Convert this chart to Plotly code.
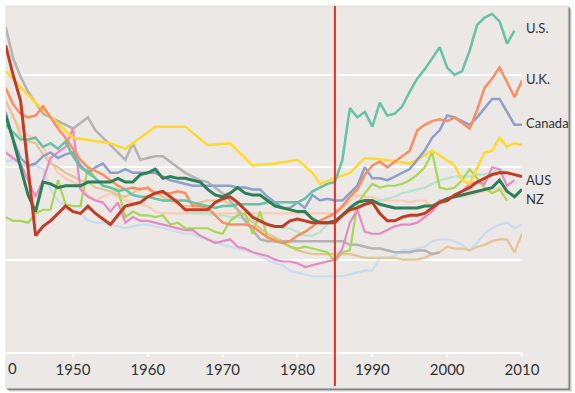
import plotly.graph_objects as go

# ---------------- data (top 1% income share, %) ----------------
years = list(range(1941, 2011))

us = [12.3, 11.9, 11.5, 11.5, 11.6, 11.1, 11.3, 11.0, 11.4, 10.6,
      10.0, 9.7, 9.4, 9.0, 8.9, 8.7, 8.8, 8.5, 8.4, 8.4,
      8.3, 8.2, 8.2, 8.2, 8.2, 8.1, 8.0, 7.9, 7.8, 7.9,
      7.9, 8.0, 8.0, 8.0, 8.0, 8.1, 8.1, 8.1, 8.1, 8.1,
      8.3, 8.7, 8.9, 9.1, 9.2, 10.4, 13.2, 12.7, 13.0, 12.2,
      13.5, 12.8, 12.9, 13.3, 14.1, 14.8, 15.3, 15.9, 16.5, 15.4,
      15.0, 15.2, 16.3, 17.7, 18.1, 18.3, 17.9, 16.7, 17.4, None]

uk = [14.3, 13.4, 12.9, 12.7, 12.8, 13.3, 12.7, 12.1, 11.6, 11.0,
      10.4, 10.0, 9.8, 9.6, 9.3, 9.0, 8.8, 8.9, 8.8, 8.9,
      8.6, 8.6, 8.6, 8.7, 8.6, 7.9, 7.9, 7.8, 7.4, 7.0,
      6.9, 6.9, 6.9, 6.8, 6.5, 6.2, 6.0, 5.9, 6.0, 6.3,
      6.5, 6.8, 7.1, 7.3, 7.5, 7.9, 8.4, 8.8, 9.6, 10.1,
      10.3, 10.0, 10.3, 10.6, 10.9, 12.0, 12.3, 12.5, 12.6, 12.5,
      12.7, 12.4, 12.1, 13.1, 14.3, 14.8, 15.4, 14.6, 13.8, 14.7]

canada = [13.0, 11.5, 10.5, 10.1, 10.2, 10.6, 10.8, 10.5, 10.7, 10.8,
          10.1, 9.7, 10.0, 10.2, 9.7, 9.7, 9.9, 9.7, 9.7, 9.7,
          9.7, 9.5, 9.3, 9.2, 9.1, 9.0, 9.0, 9.0, 9.0, 9.0,
          9.0, 8.9, 8.9, 8.8, 8.8, 8.4, 8.1, 7.8, 7.8, 8.1,
          7.8, 8.5, 8.2, 8.3, 8.2, 8.2, 8.6, 9.0, 10.0, 9.4,
          9.4, 9.3, 9.5, 9.7, 9.9, 10.4, 10.9, 11.6, 12.0, 12.8,
          12.7, 12.5, 12.3, 12.7, 13.2, 13.7, 13.7, 13.0, 12.3, 12.3]

aus = [16.6, 15.0, 13.6, 10.0, 6.3, 6.8, 7.1, 7.5, 7.9, 7.6,
       7.5, 7.9, 7.5, 7.2, 6.9, 7.4, 7.9, 8.0, 8.1, 8.4,
       8.6, 8.7, 8.4, 8.1, 7.7, 7.7, 7.7, 7.7, 8.1, 8.3,
       8.4, 8.1, 7.7, 7.3, 7.1, 6.9, 6.8, 6.8, 7.1, 7.2,
       7.1, 7.0, 7.0, 7.0, 7.0, 7.4, 7.7, 7.8, 8.0, 8.1,
       7.5, 7.1, 7.1, 7.3, 7.4, 7.4, 7.5, 7.8, 8.1, 8.2,
       8.5, 8.7, 8.9, 9.2, 9.4, 9.6, 9.7, 9.7, 9.6, 9.5]

nz = [12.8, 11.5, 10.0, 8.5, 7.6, 9.2, 9.1, 8.9, 9.0, 9.0,
      9.0, 9.2, 9.2, 9.2, 9.2, 9.4, 9.2, 9.2, 9.6, 9.7,
      9.9, 9.4, 9.5, 9.4, 9.4, 9.3, 9.2, 8.8, 8.5, 8.4,
      8.6, 8.9, 8.6, 8.5, 8.5, 8.2, 7.9, 7.8, 7.7, 7.6,
      7.6, 7.2, 7.0, 7.0, 7.1, 7.4, 7.8, 8.1, 8.2, 8.2,
      8.0, 7.9, 7.8, 7.8, 7.8, 7.8, 7.9, 7.9, 8.1, 8.3,
      8.4, 8.5, 8.6, 8.7, 8.8, 8.9, 9.3, 8.7, 8.4, 8.8]

gray = [17.6, 15.9, 14.9, 14.1, 13.5, 12.9, 12.7, 12.5, 12.3, 12.1,
        12.4, 12.7, 12.0, 11.6, 11.2, 10.8, 10.4, 11.3, 10.4, 10.5,
        10.6, 10.6, 10.3, 10.0, 9.7, 9.5, 9.3, 9.2, 8.9, 8.6,
        8.2, 7.7, 7.1, 6.6, 6.1, 6.0, 6.0, 6.0, 6.0, 6.0,
        6.0, 6.0, 6.0, 6.0, 6.0, 6.0, 5.8, 5.8, 5.7, 5.6,
        5.6, 5.5, 5.4, 5.4, 5.4, 5.5, 5.5, 5.3, 5.4, None,
        None, None, None, None, None, None, None, None, None, None]

pink = [10.8, 10.5, 10.2, 9.3, 8.4, 9.3, 10.5, 10.8, 11.1, 12.1,
        8.8, 8.4, 8.2, 8.1, 7.6, 8.1, 7.0, 7.3, 7.1, 7.1,
        7.0, 6.9, 6.8, 6.7, 6.6, 6.6, 6.3, 6.1, 5.9, 6.0,
        6.1, 5.7, 5.6, 5.4, 5.3, 5.2, 5.0, 4.9, 4.9, 4.8,
        4.6, 4.7, 4.8, 4.9, 5.0, 5.6, 7.0, 7.7, 6.5, 6.4,
        6.4, 6.6, 6.8, 6.9, 6.9, 7.0, 7.3, 7.6, 8.2, 8.2,
        8.5, 8.7, 9.1, 9.2, 9.1, 10.0, 9.9, 9.0, 9.3, None]

lightgreen = [7.3, 7.1, 7.1, 7.0, 7.5, 7.7, 7.7, 9.3, 8.0, 7.9,
              7.9, 10.0, 9.4, 9.0, 8.9, 8.8, 7.3, 7.6, 7.4, 7.4,
              7.3, 7.4, 6.9, 7.0, 6.7, 6.7, 6.7, 6.7, 6.5, 6.4,
              7.1, 7.4, 7.5, 6.4, 7.6, 6.2, 6.1, 5.9, 5.7, 5.6,
              5.7, 5.6, 5.5, 5.4, 4.9, 5.4, 5.5, 8.0, 8.6, 9.1,
              8.9, 9.0, 9.0, 9.1, 9.3, 9.6, 10.0, 10.8, 8.9, 8.8,
              8.9, 9.3, 9.9, 9.4, 8.9, 8.6, 8.8, 8.2, None, None]

lightblue = [10.3, 10.4, 10.2, 10.0, 10.1, 9.9, 8.8, 8.2, 7.9, 7.7,
             7.5, 7.1, 7.0, 7.0, 6.9, 6.8, 6.7, 6.8, 6.9, 6.9,
             6.8, 6.7, 6.6, 6.5, 6.4, 6.4, 6.2, 6.1, 6.0, 5.8,
             5.7, 5.6, 5.5, 5.4, 5.2, 5.0, 4.8, 4.7, 4.4, 4.3,
             4.2, 4.1, 4.1, 4.1, 4.1, 4.1, 4.2, 4.3, 4.4, 4.4,
             5.1, 5.1, 5.2, 5.5, 5.5, 5.6, 5.7, 6.0, 6.1, 6.1,
             6.0, 5.8, 5.5, 5.9, 6.4, 6.7, 6.9, 7.0, 6.7, 6.9]

tan = [13.6, 12.8, 11.7, 11.4, 11.3, 10.7, 10.2, 10.0, 9.7, 9.5,
       9.3, 9.2, 8.9, 8.8, 8.7, 8.5, 8.4, 8.6, 8.9, 8.8,
       8.6, 8.4, 8.2, 8.0, 7.9, 7.9, 8.1, 8.2, 8.2, 8.2,
       8.0, 7.7, 7.4, 7.0, 6.7, 6.4, 6.2, 6.0, 5.7, 5.5,
       5.4, 5.3, 5.3, 5.3, 5.3, 5.3, 5.3, 5.2, 5.1, 5.1,
       5.1, 5.1, 5.1, 5.0, 5.0, 5.0, 5.1, 5.3, 5.4, 5.7,
       5.6, 5.6, 5.5, 5.7, 5.8, 6.0, 6.1, 6.1, 5.4, 6.4]

peach = [13.6, 12.7, 12.1, 11.7, 11.6, 11.1, 10.3, 9.7, 9.4, 9.2,
         9.0, 8.5, 8.2, 8.4, 8.6, 8.4, 8.2, 8.1, 8.0, 7.9,
         7.6, 7.5, 7.5, 7.5, 7.5, 7.5, 7.5, 7.5, 7.5, 7.5,
         7.5, 7.5, 7.5, 7.5, 7.5, 7.5, 7.5, 7.5, 7.5, 7.5,
         7.5, 7.5, 7.5, 7.5, 7.5, 7.8, 8.2, 8.5, 8.4, 8.4,
         8.2, 8.2, 8.2, 8.2, 8.1, 8.2, 8.2, 7.9, 8.2, 8.3,
         8.4, 8.4, 8.5, 8.6, 8.7, 8.8, 8.9, 8.6, None, None]

yellow_years = [1941, 1945, 1950, 1955, 1957, 1958, 1961, 1965, 1968, 1971,
                1974, 1977, 1980, 1982, 1983, 1985, 1987, 1989, 1992, 1995,
                1998, 2001, 2002, 2003, 2005, 2006, 2007, 2008, 2009, 2010]
yellow = [15.2, 13.5, 11.6, 11.3, 11.0, 11.3, 12.2, 12.2, 11.2, 11.3,
          10.1, 10.2, 10.4, 9.7, 9.1, 9.4, 9.7, 10.5, 10.4, 10.2,
          10.9, 10.1, 9.3, 9.1, 10.8, 10.9, 11.6, 11.1, 11.3, 11.2]

mint_years = list(range(1965, 2011))
mint = [7.6, 7.5, 7.5, 7.5, 7.4, 7.4, 7.3, 7.3, 7.2, 7.1,
        7.0, 6.9, 6.8, 6.7, 6.7, 6.5, 6.3, 6.3, 6.5, 6.9,
        7.0, 7.5, 7.8, 7.9, 7.9, 8.1, 8.2, 8.3, 8.4, 8.6,
        8.7, 8.8, 8.9, 9.1, 9.3, 9.4, 9.5, 9.5, 9.5, 9.6,
        9.6, 9.7, 9.9, 9.7, 9.6, 9.5]

tick_years = [1950, 1960, 1970, 1980, 1990, 2000, 2010]
marker_year = 1985
labels = ["U.S.", "U.K.", "Canada", "AUS", "NZ"]

# ---------------- figure ----------------
W, H = 575, 393
ML, MR, MT, MB = 6, 53, 6, 41
PW, PH = W - ML - MR, H - MT - MB

def px_x(p):
    return p / PW

def px_y(p):
    return p / PH

fig = go.Figure()

series = [
    (years, lightblue, "#c9dcf0", 2.2),
    (years, peach, "#fdcbb0", 2.2),
    (mint_years, mint, "#b5e3cf", 2.2),
    (years, tan, "#e5c494", 2.2),
    (years, gray, "#b3b3b3", 2.5),
    (years, lightgreen, "#a6d854", 2.2),
    (years, pink, "#e78ac3", 2.2),
    (yellow_years, yellow, "#ffd92f", 2.5),
    (years, canada, "#8da0cb", 2.5),
    (years, uk, "#fc8d62", 2.5),
    (years, us, "#66c2a5", 2.5),
    (years, nz, "#2b7f59", 3),
    (years, aus, "#c23b23", 3),
]
for xs, ys, col, w in series:
    fig.add_trace(go.Scatter(x=xs, y=ys, mode="lines", line=dict(color=col, width=w),
                             hoverinfo="skip", showlegend=False))

card_x1 = 1 + px_x(46)
card_y0 = -px_y(36)
shapes = []
for off, alpha in [(4, 0.1), (3, 0.2), (2, 0.4)]:
    shapes.append(dict(type="rect", xref="paper", yref="paper",
                       x0=px_x(off - 1), x1=card_x1 + px_x(off),
                       y0=card_y0 - px_y(off), y1=1 - px_y(off - 1),
                       fillcolor=f"rgba(40,40,40,{alpha})", line=dict(width=0), layer="below"))
shapes.append(dict(type="rect", xref="paper", yref="paper", x0=0, x1=card_x1,
                   y0=card_y0, y1=1, fillcolor="#ebe8e6",
                   line=dict(color="#e2dfdd", width=1), layer="below"))
shapes.append(dict(type="line", xref="x", yref="paper", x0=marker_year, x1=marker_year,
                   y0=card_y0 + px_y(2), y1=1, line=dict(color="#e0302a", width=2), layer="above"))

last = {"U.S.": us[-2], "U.K.": uk[-1], "Canada": canada[-1], "AUS": aus[-1], "NZ": nz[-1]}
nudge = {"U.S.": 0.15, "U.K.": 0.1, "Canada": 0.1, "AUS": -0.2, "NZ": -0.5}
annotations = []
for lab in labels:
    annotations.append(dict(x=2010, y=last[lab] + nudge[lab], xref="x", yref="y",
                            text=lab, showarrow=False, xanchor="left", yanchor="middle",
                            xshift=2, font=dict(family="Lato", size=13, color="#333333")))
annotations.append(dict(x=0, y=-px_y(16), xref="paper", yref="paper", text="0",
                        showarrow=False, xanchor="left", yanchor="middle", xshift=0,
                        font=dict(family="Lato", size=15, color="#333333")))

fig.update_layout(
    width=W, height=H,
    margin=dict(l=ML, r=MR, t=MT, b=MB),
    paper_bgcolor="white",
    plot_bgcolor="rgba(0,0,0,0)",
    shapes=shapes,
    annotations=annotations,
    showlegend=False,
    xaxis=dict(range=[1941.05, 2010], tickvals=tick_years, ticktext=[str(t) for t in tick_years],
               showgrid=False, zeroline=False, showline=True, linecolor="white", linewidth=2,
               ticks="outside", ticklen=3, tickcolor="white", tickwidth=1.5,
               tickfont=dict(family="Lato", size=15, color="#333333")),
    yaxis=dict(range=[0, 18.73], dtick=5, tick0=0, showticklabels=False, showgrid=True,
               gridcolor="white", gridwidth=1.5, zeroline=False, showline=False, ticks=""),
)

fig.write_html("out.html", config={"displayModeBar": False},
               post_script="document.body.style.margin='0';")
